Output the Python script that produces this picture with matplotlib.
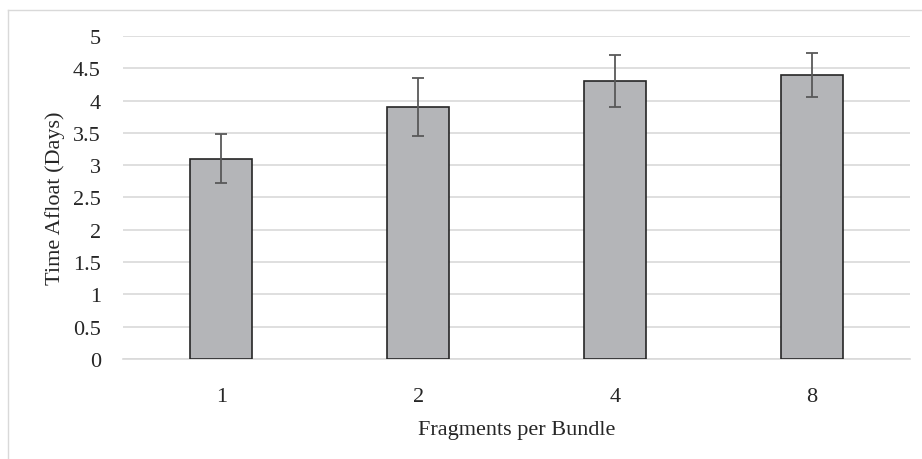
import matplotlib.pyplot as plt
from matplotlib.lines import Line2D
import numpy as np

# data
categories = ['1', '2', '4', '8']
days = [3.1, 3.9, 4.3, 4.4]
err = [0.38, 0.45, 0.40, 0.34]

plt.rcParams['font.family'] = ['Liberation Serif', 'DejaVu Serif']

fig = plt.figure(figsize=(9.22, 4.6), dpi=100)
ax = fig.add_axes([123/922, 1 - 360/460, (910 - 123)/922, (360 - 37)/460])

x = np.arange(len(categories))
ax.bar(x, days, width=0.315, color='#b4b5b8', edgecolor='#262626', linewidth=1.2, zorder=3)
ax.errorbar(x, days, yerr=err, fmt='none', ecolor='#595959', elinewidth=1.3,
            capsize=4.5, capthick=1.3, zorder=4)

ax.set_xlim(-0.5, len(categories) - 0.5)
ax.set_ylim(0, 5)
ax.set_yticks(np.arange(0, 5.01, 0.5))
ax.set_yticklabels(['0', '0.5', '1', '1.5', '2', '2.5', '3', '3.5', '4', '4.5', '5'])
ax.set_xticks(x)
ax.set_xticklabels(categories)
ax.yaxis.grid(True, color='#d9d9d9', linewidth=1.2, zorder=0)
ax.set_axisbelow(True)
for s in ['top', 'right', 'left']:
    ax.spines[s].set_visible(False)
ax.spines['bottom'].set_color('#d9d9d9')
ax.spines['bottom'].set_linewidth(1.2)
ax.tick_params(axis='both', length=0, labelsize=16, colors='#262626')
ax.tick_params(axis='x', pad=20)
ax.tick_params(axis='y', pad=16)

ax.set_xlabel('Fragments per Bundle', fontsize=16, color='#262626', labelpad=10)
ax.set_ylabel('Time Afloat (Days)', fontsize=16, color='#262626', labelpad=6)

# chart border (light gray frame)
fig.add_artist(Line2D([8/922, 8/922], [0, 1 - 11/460], color='#d9d9d9', linewidth=1.0))
fig.add_artist(Line2D([8/922, 1], [1 - 11/460, 1 - 11/460], color='#d9d9d9', linewidth=1.0))

fig.savefig('out.png', dpi=100)
